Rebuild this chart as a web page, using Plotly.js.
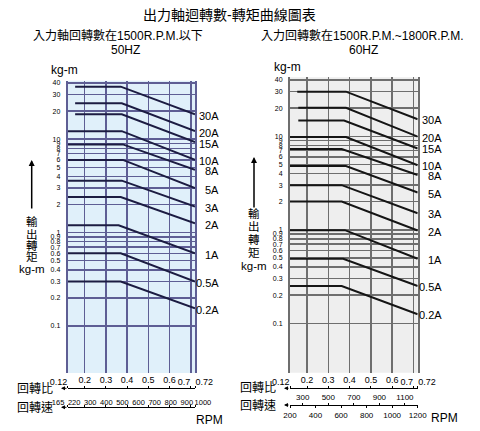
<!DOCTYPE html>
<html><head><meta charset="utf-8">
<script src="https://cdn.plot.ly/plotly-3.0.1.min.js"></script>
<style>html,body{margin:0;padding:0;background:#fff}#chart{width:480px;height:431px}</style>
</head><body><div id="chart"></div>
<script>
// ---------------- data ----------------
const seriesLabels = ['30A','20A','15A','10A','8A','5A','3A','2A','1A','0.5A','0.2A'];
// 50Hz (input <=1500 rpm)
const start50 = [0.155,0.155,0.155,0.12,0.12,0.12,0.12,0.12,0.12,0.12,0.12];
const knee50  = [0.37,0.375,0.375,0.375,0.38,0.38,0.375,0.37,0.36,0.37,0.37];
const flat50  = [36.5,24.2,18.5,12.2,8.8,6.0,3.6,2.4,1.2,0.6,0.3];
const end50   = [18.5,12.2,9.3,6.0,4.7,3.0,1.9,1.26,0.6,0.3,0.155];
// 60Hz (input 1500~1800 rpm)
const start60 = [0.154,0.159,0.159,0.12,0.12,0.12,0.12,0.12,0.12,0.12,0.12];
const knee60  = [0.383,0.383,0.374,0.383,0.363,0.383,0.363,0.363,0.378,0.37,0.363];
const flat60  = [30,20.2,14.7,9.8,7.3,4.8,3.0,2.0,0.99,0.49,0.25];
const end60   = [15.2,9.9,7.4,4.9,3.85,2.5,1.5,0.98,0.49,0.25,0.125];

const ratioTicks = [0.12,0.2,0.3,0.4,0.5,0.6,0.7,0.72];
const ratioText  = ['0.12','0.2','0.3','0.4','0.5','0.6','0.7','0.72'];
const yTicks = [0.1,0.2,0.3,0.4,0.5,0.6,0.7,0.8,0.9,1,2,3,4,5,6,7,8,9,10,20,30,40];
const yTickText = ['0.1','0.2','0.3','0.4','0.5','0.6','0.7','0.8','0.9','1','2','3','4','5','6','7','8','9','10','20','30','40'];
const rpm50Labels = ['165','220','300','400','500','600','700','800','900','1000'];
const rpm60Upper = [300,500,700,900,1100];
const rpm60Lower = [200,400,600,800,1000,1200];
const rpm60Range = [200,1200];

// ---------------- layout helpers ----------------
const W = 480, H = 431;
const px = v => v / W, py = v => 1 - v / H;
const LAT = '"Liberation Sans", Arial, sans-serif';
const NARROW = '"Liberation Sans Narrow", "Arial Narrow", "Liberation Sans", sans-serif';
const CJK = '"Liberation Sans", "Noto Sans CJK TC", sans-serif';
const nR = ratioTicks.length;
const ratioMin = ratioTicks[0], ratioMax = ratioTicks[nR - 1];

const curve50 = '#1c1c42', grid50 = '#5e5e94', bg50 = '#e0f0fa';
const curve60 = '#151515', grid60 = '#6e6e6e', bg60 = '#eeeeee';

function curves(start, knee, flat, end, xa, ya, color) {
  return seriesLabels.map((name, i) => ({
    type: 'scatter', mode: 'lines', name,
    x: [start[i], knee[i], ratioMax], y: [flat[i], flat[i], end[i]],
    xaxis: xa, yaxis: ya, line: {color, width: 2},
    hoverinfo: 'skip', showlegend: false
  }));
}
function dummy(xa, ya, x, y) {
  return {type: 'scatter', mode: 'markers', x: [x], y: [y], xaxis: xa, yaxis: ya,
    marker: {opacity: 0, size: 1}, hoverinfo: 'skip', showlegend: false};
}

const data = [
  ...curves(start50, knee50, flat50, end50, 'x', 'y', curve50),
  ...curves(start60, knee60, flat60, end60, 'x2', 'y2', curve60),
  dummy('x3', 'y', ratioMin, 1),
  dummy('x5', 'y', ratioMin, 1),
  dummy('x9', 'y', ratioMin, 1),
  dummy('x10', 'y', ratioMin, 1),
  dummy('x4', 'y2', ratioMin, 1),
  dummy('x11', 'y2', ratioMin, 1),
  dummy('x12', 'y2', ratioMin, 1),
  dummy('x6', 'y2', rpm60Range[0], 1),
  dummy('x8', 'y2', rpm60Range[0], 1),
  dummy('x7', 'y3', 0, 0)
];

function mainX(dom, grid) {
  return {domain: dom, range: [ratioMin, ratioMax], tickmode: 'array', tickvals: ratioTicks,
    showticklabels: false, ticks: '', showgrid: true, gridcolor: grid, gridwidth: 1.5,
    zeroline: false, showline: false, fixedrange: true};
}
function mainY(dom, rng, grid, xa) {
  return {domain: dom, type: 'log', range: rng, anchor: xa, tickmode: 'array',
    tickvals: yTicks, ticktext: yTickText, tickfont: {family: LAT, size: 7, color: '#000'},
    ticks: 'outside', ticklen: 4, tickcolor: 'rgba(0,0,0,0)', showgrid: true, gridcolor: grid,
    gridwidth: 1.5, showline: true, mirror: true, linecolor: grid, linewidth: 2,
    zeroline: false, fixedrange: true};
}
function scaleAxis(over, pos, side, rng, tv, tt, showLine, fsize, opts) {
  const a = {overlaying: over, anchor: 'free', position: pos, side, range: rng,
    tickmode: 'array', tickvals: tv, tickangle: 0, ticks: 'outside', ticklen: 2, tickwidth: 1,
    tickcolor: '#000', showline: showLine, linecolor: '#000', linewidth: 1, showgrid: false,
    zeroline: false, fixedrange: true,
    tickfont: {family: NARROW, size: fsize, color: '#000'}};
  if (tt) a.ticktext = tt; else a.showticklabels = false;
  return Object.assign(a, opts || {});
}
// ratio row: middle labels centred, end labels pushed aside like the original
const midText = ratioText.map((t, i) => (i === 0 || i >= nR - 2) ? '' : t);
const sideLeftVals = [ratioTicks[0], ratioTicks[nR - 2]];
const sideLeftText = [ratioText[0], ratioText[nR - 2]];
const hidden = {showline: false, tickcolor: 'rgba(0,0,0,0)'};

const leftDom = [px(67.7), px(195)];
const rightDom = [px(290), px(417.7)];
const rr = [ratioMin, ratioMax];
const layout = {
  width: W, height: H, margin: {l: 0, r: 0, t: 0, b: 0},
  paper_bgcolor: '#ffffff', plot_bgcolor: 'rgba(0,0,0,0)', showlegend: false, hovermode: false,
  font: {family: LAT, color: '#000'},
  xaxis: mainX(leftDom, grid50),
  yaxis: mainY([py(373), py(80.7)], [Math.log10(0.0314), Math.log10(42.3)], grid50, 'x'),
  xaxis2: mainX(rightDom, grid60),
  yaxis2: mainY([py(372.7), py(77.3)], [Math.log10(0.0296), Math.log10(42.7)], grid60, 'x2'),
  // ratio rows
  xaxis3: scaleAxis('x', py(388.3), 'top', rr, ratioTicks, midText, true, 9),
  xaxis9: scaleAxis('x', py(388.3), 'top', rr, sideLeftVals, sideLeftText, false, 9,
    Object.assign({ticklabelposition: 'outside left'}, hidden)),
  xaxis10: scaleAxis('x', py(388.3), 'top', rr, [ratioMax], [ratioText[nR - 1]], false, 9,
    Object.assign({ticklabelposition: 'outside right'}, hidden)),
  xaxis4: scaleAxis('x2', py(388.3), 'top', rr, ratioTicks, midText, true, 9),
  xaxis11: scaleAxis('x2', py(388.3), 'top', rr, sideLeftVals, sideLeftText, false, 9,
    Object.assign({ticklabelposition: 'outside left'}, hidden)),
  xaxis12: scaleAxis('x2', py(388.3), 'top', rr, [ratioMax], [ratioText[nR - 1]], false, 9,
    Object.assign({ticklabelposition: 'outside right'}, hidden)),
  // rpm rows
  xaxis5: scaleAxis('x', py(407.3), 'top', rr, ratioTicks, null, true, 8),
  xaxis6: scaleAxis('x2', py(405), 'top', rpm60Range, rpm60Upper, rpm60Upper.map(String), true, 8),
  xaxis8: scaleAxis('x2', py(405), 'bottom', rpm60Range, rpm60Lower, rpm60Lower.map(String), false, 8),
  xaxis7: {domain: [px(50), px(211)], anchor: 'free', position: py(409.5), side: 'top',
    range: [-0.5, rpm50Labels.length - 0.5], tickmode: 'array',
    tickvals: rpm50Labels.map((_, i) => i), ticktext: rpm50Labels, tickangle: 0,
    ticks: 'outside', ticklen: 2, tickcolor: 'rgba(0,0,0,0)', showline: false, showgrid: false,
    zeroline: false, fixedrange: true, tickfont: {family: NARROW, size: 7.5, color: '#000'}},
  yaxis3: {domain: [0, 0.005], anchor: 'x7', visible: false, range: [-1, 1], fixedrange: true},
  shapes: [
    {type: 'rect', xref: 'x domain', yref: 'y domain', x0: 0, x1: 1, y0: 0, y1: 1,
      fillcolor: bg50, line: {width: 0}, layer: 'below'},
    {type: 'rect', xref: 'x2 domain', yref: 'y2 domain', x0: 0, x1: 1, y0: 0, y1: 1,
      fillcolor: bg60, line: {width: 0}, layer: 'below'}
  ],
  annotations: []
};

const ann = layout.annotations;
function txt(text, x, y, size, family, extra) {
  ann.push(Object.assign({text, xref: 'paper', yref: 'paper', x: px(x), y: py(y),
    xanchor: 'center', yanchor: 'middle', showarrow: false,
    font: {family: family || CJK, size, color: '#000'}}, extra || {}));
}
// titles
txt('出力軸迴轉數-轉矩曲線圖表', 229, 15, 14);
txt('入力軸回轉數在1500R.P.M.以下', 118, 36, 12);
txt('50HZ', 125, 50, 12, LAT);
txt('入力回轉數在1500R.P.M.~1800R.P.M.', 362, 36, 12);
txt('60HZ', 363, 50, 12, LAT);
txt('kg-m', 64.5, 70, 12, LAT);
txt('kg-m', 287, 66.7, 12, LAT);
// vertical axis captions
const vChars = ['輸', '出', '轉', '矩', 'kg-m'];
const vLeftY = [221, 234, 245.5, 256.5, 269];
const vRightY = [214, 227, 240, 253, 266];
vChars.forEach((c, i) => {
  txt(c, 32, vLeftY[i], 11.5, CJK);
  txt(c, 254, vRightY[i], 11.5, CJK);
});
function arrow(x, y, ax, ay, w) {
  ann.push({text: '', xref: 'paper', yref: 'paper', x: px(x), y: py(y), ax, ay,
    showarrow: true, arrowhead: 2, arrowsize: 0.8, arrowwidth: w, arrowcolor: '#000'});
}
arrow(31.7, 160, 0, 50, 1.5);
arrow(254, 157, 0, 52, 1.5);
arrow(61, 388.3, 7, 0, 1);
arrow(61, 407.3, 7, 0, 1);
arrow(284, 388.3, 6, 0, 1);
arrow(284, 405, 6, 0, 1);
// scale row captions
txt('回轉比', 34.5, 389, 12);
txt('回轉速', 34.5, 407, 12);
txt('回轉比', 258, 388.3, 12);
txt('回轉速', 258, 405.7, 12);
txt('RPM', 209, 420, 12, LAT);
txt('RPM', 444, 418.3, 12, LAT);
// series labels at curve ends
seriesLabels.forEach((name, i) => {
  ann.push({text: name, xref: 'x', yref: 'y', x: ratioMax, y: Math.log10(end50[i]),
    xanchor: 'right', yanchor: 'middle', xshift: 26, yshift: -1.5, showarrow: false,
    font: {family: LAT, size: 11, color: '#000'}});
  ann.push({text: name, xref: 'x2', yref: 'y2', x: ratioMax, y: Math.log10(end60[i]),
    xanchor: 'right', yanchor: 'middle', xshift: 26, yshift: -1, showarrow: false,
    font: {family: LAT, size: 11, color: '#000'}});
});

Plotly.newPlot('chart', data, layout, {staticPlot: true, displayModeBar: false});
</script>
</body></html>
